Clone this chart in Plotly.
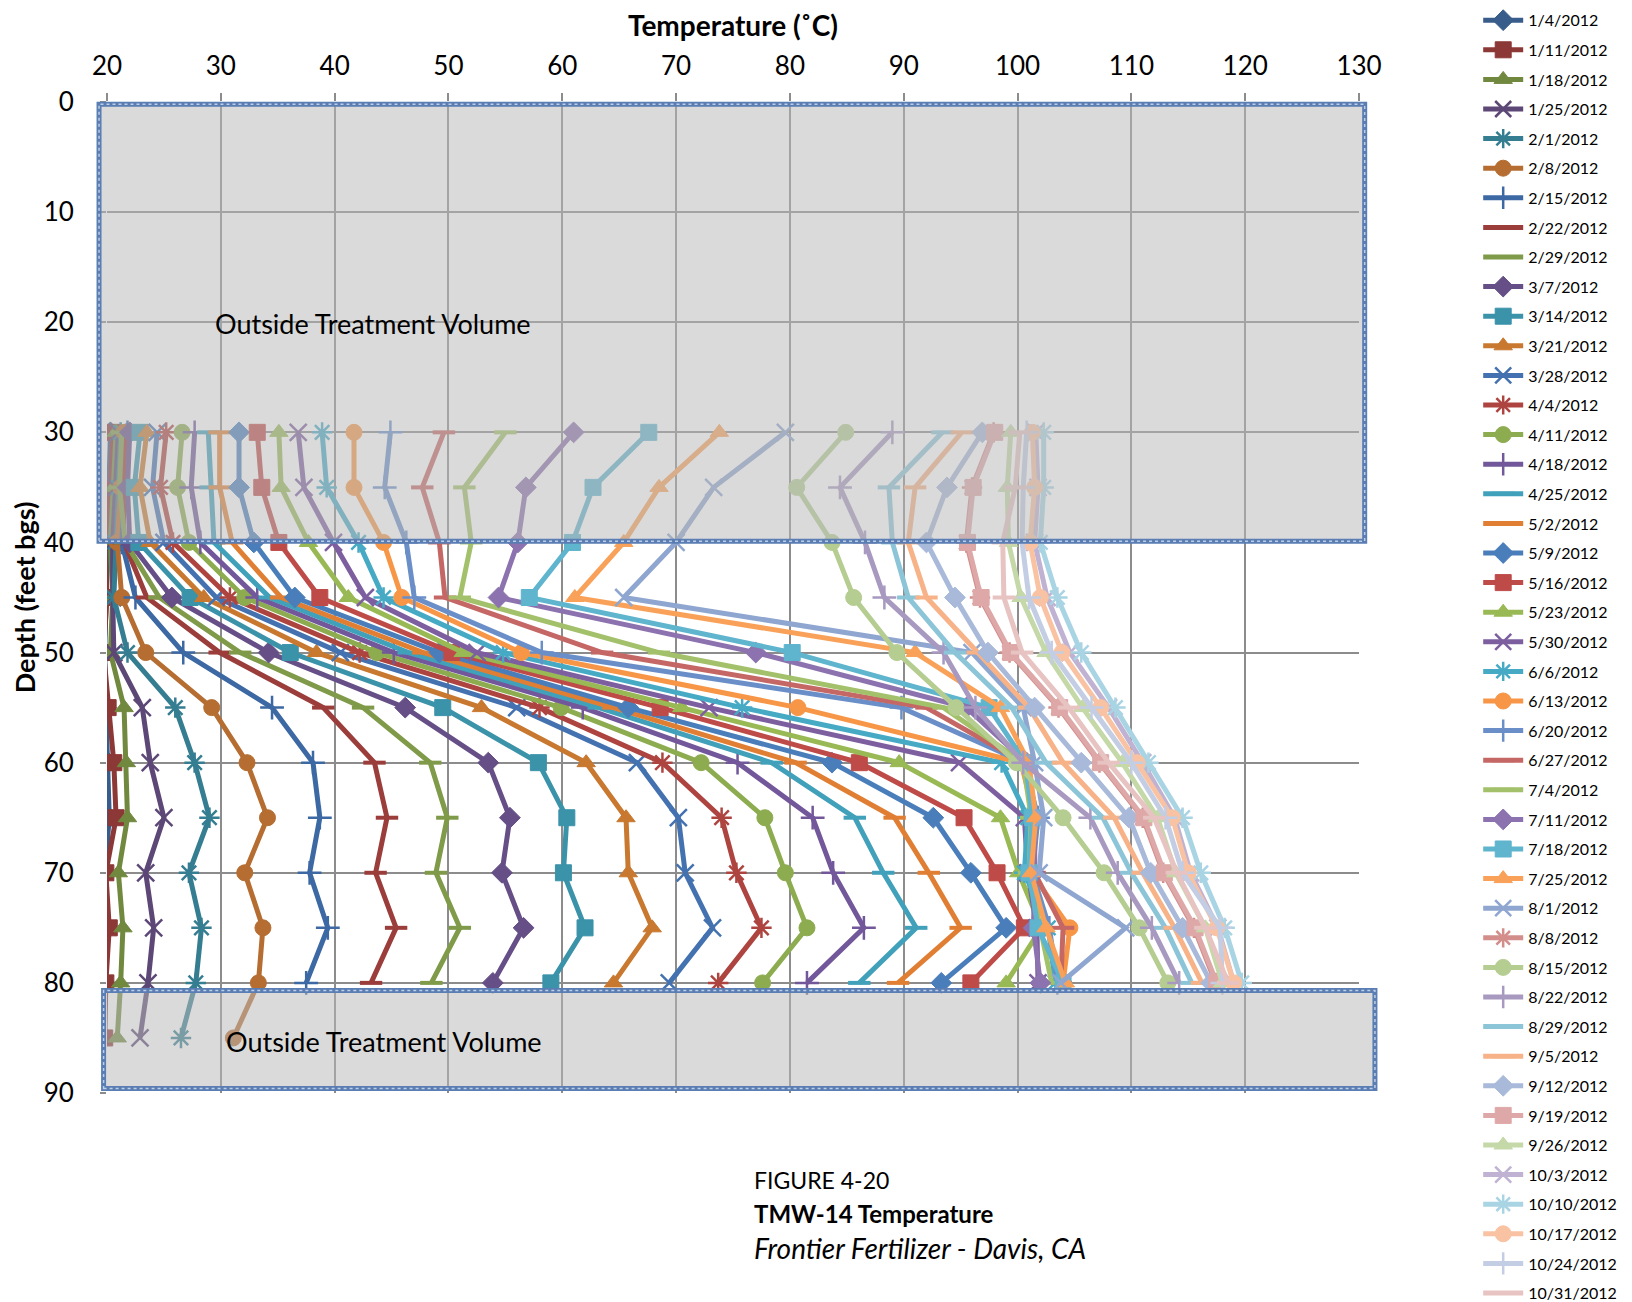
import plotly.graph_objects as go

dates = ["1/4/2012", "1/11/2012", "1/18/2012", "1/25/2012", "2/1/2012", "2/8/2012",
         "2/15/2012", "2/22/2012", "2/29/2012", "3/7/2012", "3/14/2012", "3/21/2012",
         "3/28/2012", "4/4/2012", "4/11/2012", "4/18/2012", "4/25/2012", "5/2/2012",
         "5/9/2012", "5/16/2012", "5/23/2012", "5/30/2012", "6/6/2012", "6/13/2012",
         "6/20/2012", "6/27/2012", "7/4/2012", "7/11/2012", "7/18/2012", "7/25/2012",
         "8/1/2012", "8/8/2012", "8/15/2012", "8/22/2012", "8/29/2012", "9/5/2012",
         "9/12/2012", "9/19/2012", "9/26/2012", "10/3/2012", "10/10/2012", "10/17/2012",
         "10/24/2012", "10/31/2012"]

depths = [30, 35, 40, 45, 50, 55, 60, 65, 70, 75, 80, 85]

t_0104 = [20.3, 20.2, 20.1, 19.9, 19.8, 19.9, 20.1, 20.2, 19.8, 19.9, 19.8, 19.8]
t_0111 = [20.5, 20.3, 19.8, 20.0, 19.7, 20.1, 20.6, 20.8, 19.9, 20.2, 19.9, 19.8]
t_0118 = [20.8, 20.6, 20.3, 20.5, 20.3, 21.5, 21.7, 21.8, 21.0, 21.4, 21.2, 20.9]
t_0125 = [21.0, 20.8, 20.5, 20.5, 20.6, 23.1, 23.8, 25.0, 23.4, 24.1, 23.6, 22.9]
t_0201 = [21.2, 21.0, 20.7, 20.6, 21.8, 26.0, 27.7, 29.0, 27.2, 28.3, 27.8, 26.5]
t_0208 = [21.5, 21.2, 20.9, 21.3, 23.4, 29.2, 32.3, 34.1, 32.1, 33.7, 33.3, 31.1]
t_0215 = [21.8, 21.5, 21.3, 22.5, 26.7, 34.5, 38.1, 38.7, 37.8, 39.4, 37.5]
t_0222 = [21.6, 21.4, 21.5, 23.5, 29.9, 39.0, 43.5, 44.6, 43.6, 45.4, 43.2]
t_0229 = [21.3, 21.1, 21.6, 24.6, 31.7, 42.5, 48.4, 49.9, 48.9, 51.0, 48.5]
t_0307 = [22.0, 21.8, 22.0, 25.7, 34.2, 46.2, 53.5, 55.4, 54.7, 56.6, 53.9]
t_0314 = [22.9, 22.4, 22.8, 27.3, 36.1, 49.5, 57.9, 60.4, 60.1, 62.0, 59.0]
t_0321 = [23.5, 22.9, 23.8, 28.5, 38.4, 52.9, 62.1, 65.6, 65.8, 67.9, 64.5]
t_0328 = [24.4, 24.0, 25.0, 29.6, 40.5, 56.0, 66.6, 70.2, 70.8, 73.2, 69.4]
t_0404 = [25.2, 24.7, 25.8, 30.8, 42.2, 58.0, 68.8, 74.0, 75.3, 77.5, 73.7]
t_0411 = [26.6, 26.2, 27.2, 32.1, 43.7, 59.9, 72.2, 77.8, 79.6, 81.5, 77.6]
t_0418 = [27.7, 27.4, 28.2, 33.2, 45.2, 61.8, 75.4, 82.0, 83.8, 86.5, 81.5]
t_0425 = [28.9, 29.1, 29.4, 34.3, 46.5, 63.2, 78.4, 85.7, 88.2, 91.1, 86.1]
t_0502 = [29.9, 29.9, 31.0, 35.3, 47.8, 64.5, 80.5, 89.2, 92.2, 95.0, 89.5]
t_0509 = [31.6, 31.6, 32.9, 36.5, 49.2, 65.8, 83.7, 92.6, 95.9, 99.0, 93.3]
t_0516 = [33.2, 33.6, 35.1, 38.7, 50.3, 68.6, 86.1, 95.3, 98.2, 100.6, 95.9]
t_0523 = [35.1, 35.3, 37.7, 41.2, 51.3, 70.5, 89.6, 98.5, 100.1, 102.1, 99.0]
t_0530 = [36.8, 37.3, 39.9, 42.7, 52.5, 72.9, 94.9, 100.6, 100.9, 101.7, 101.8]
t_0606 = [38.9, 39.3, 42.1, 44.3, 54.8, 75.8, 98.6, 100.9, 100.6, 102.7, 103.3]
t_0613 = [41.7, 41.7, 44.3, 45.9, 56.4, 80.7, 100.3, 101.5, 101.2, 104.6, 104.0]
t_0620 = [44.9, 44.4, 46.3, 47.0, 58.2, 89.8, 100.6, 101.8, 101.3, 102.8, 103.5]
t_0627 = [49.6, 47.7, 49.2, 49.7, 63.5, 92.0, 100.5, 101.5, 101.5, 104.0, 103.8]
t_0704 = [55.0, 51.4, 52.0, 51.0, 68.5, 93.5, 100.5, 101.2, 101.0, 102.0, 103.0]
t_0711 = [61.0, 56.8, 56.1, 54.4, 77.0, 95.5, 100.8, 101.5, 101.5, 101.4, 102.0]
t_0718 = [67.6, 62.7, 60.9, 57.1, 80.2, 97.5, 100.7, 101.3, 101.0, 101.8, 104.0]
t_0725 = [73.8, 68.5, 65.4, 61.1, 91.0, 98.5, 101.0, 101.6, 101.2, 102.5, 104.2]
t_0801 = [79.6, 73.3, 70.0, 65.4, 96.0, 100.5, 101.5, 102.3, 101.9, 109.5, 103.8]
t_0808 = [97.9, 96.0, 95.5, 96.7, 99.3, 103.6, 107.2, 111.0, 112.8, 115.5, 117.4]
t_0815 = [84.9, 80.6, 83.7, 85.6, 89.4, 94.6, 99.9, 104.0, 107.6, 110.7, 113.2]
t_0822 = [89.0, 84.4, 86.6, 88.3, 93.5, 96.3, 100.5, 106.4, 108.8, 111.8, 114.2]
t_0829 = [93.4, 88.7, 89.0, 90.4, 94.5, 99.5, 102.5, 107.5, 110.0, 113.0, 115.3]
t_0905 = [95.1, 91.0, 90.4, 92.0, 96.5, 101.0, 104.0, 108.5, 111.0, 113.8, 116.2]
t_0912 = [96.9, 93.8, 92.0, 94.5, 97.4, 101.5, 105.6, 109.8, 111.7, 114.5, 117.0]
t_0919 = [98.0, 96.1, 95.6, 96.8, 99.4, 103.7, 107.3, 111.1, 112.9, 115.6, 117.5]
t_0926 = [99.4, 99.1, 99.2, 100.3, 102.5, 105.7, 109.2, 112.3, 113.9, 116.5, 118.0]
t_1003 = [101.6, 101.8, 101.5, 102.6, 104.6, 108.0, 111.0, 113.8, 115.2, 117.6, 119.0]
t_1010 = [102.3, 102.3, 102.0, 103.5, 105.6, 108.6, 111.5, 114.5, 116.1, 118.2, 119.7]
t_1017 = [101.3, 101.5, 101.1, 102.0, 103.9, 107.3, 110.5, 113.6, 115.0, 117.5, 119.0]
t_1024 = [100.8, 100.5, 100.4, 101.0, 103.0, 106.5, 110.0, 113.0, 114.5, 117.8, 118.0]
t_1031 = [100.2, 99.8, 98.7, 98.8, 100.4, 104.5, 108.0, 112.0, 114.0, 116.5, 118.5]

series = [t_0104, t_0111, t_0118, t_0125, t_0201, t_0208, t_0215, t_0222, t_0229,
          t_0307, t_0314, t_0321, t_0328, t_0404, t_0411, t_0418, t_0425, t_0502,
          t_0509, t_0516, t_0523, t_0530, t_0606, t_0613, t_0620, t_0627, t_0704,
          t_0711, t_0718, t_0725, t_0801, t_0808, t_0815, t_0822, t_0829, t_0905,
          t_0912, t_0919, t_0926, t_1003, t_1010, t_1017, t_1024, t_1031]

colors = [
    "#385D8A", "#8C3836", "#71893F", "#5C4776", "#357D91", "#B66D31",
    "#3C68A3", "#9B3D3A", "#7F9A48", "#654F86", "#3B93AA", "#C8782F",
    "#4472B0", "#AE4440", "#8DAC50", "#72589A", "#41A0BA", "#E07F33",
    "#4A7EBB", "#BE4B48", "#98B954", "#7D5FA0", "#46AAC5", "#F79646",
    "#6A8FC8", "#C56764", "#A3C16A", "#8C72AE", "#5FB4CE", "#F9A159",
    "#8EA6D0", "#D38E8C", "#B5CD90", "#A899C0", "#8CC5D8", "#F7B287",
    "#A8B9DA", "#DDA8A7", "#C5D8A8", "#BFB2D2", "#A9D4E3", "#F9C3A3",
    "#C3CDE3", "#E7C3C2",
]

symbol_cycle = ["diamond", "square", "triangle-up", "x-thin-open", "asterisk-open",
                "circle", "cross-thin-open", "line-ew-open", "line-ew-open"]

FONT = "Lato"

fig = go.Figure()
for i, (name, vals) in enumerate(zip(dates, series)):
    sym = symbol_cycle[i % len(symbol_cycle)]
    c = colors[i]
    is_open = sym.endswith("-open")
    if sym == "line-ew-open":
        mk = dict(symbol=sym, size=16, color=c, line=dict(color=c, width=4))
    elif is_open:
        mk = dict(symbol=sym, size=17, color=c, line=dict(color=c, width=2.5))
    else:
        mk = dict(symbol=sym, size=16, color=c, line=dict(color=c, width=1))
    fig.add_trace(go.Scatter(
        x=vals, y=depths[:len(vals)], mode="lines+markers", name=name,
        legendgroup=name, line=dict(color=c, width=5), marker=mk,
    ))

def px(t):
    return (t - 20) / 110.0

def py(d):
    return 1 - d / 90.0

# shaded "outside treatment volume" boxes
for (t0, t1, d0, d1) in [(19.3, 130.5, 0.2, 39.9), (19.7, 131.4, 80.7, 89.6)]:
    fig.add_shape(type="rect", xref="paper", yref="paper",
                  x0=px(t0), x1=px(t1), y0=py(d1), y1=py(d0),
                  fillcolor="rgba(185,185,185,0.52)",
                  line=dict(color="#5A7DB3", width=5), layer="above")
    fig.add_shape(type="rect", xref="paper", yref="paper",
                  x0=px(t0), x1=px(t1), y0=py(d1), y1=py(d0),
                  fillcolor="rgba(0,0,0,0)",
                  line=dict(color="rgba(200,215,235,0.9)", width=1.5, dash="dot"), layer="above")

fig.add_annotation(x=29.3, y=20.1, xref="x", yref="y", text="Outside Treatment Volume",
                   showarrow=False, xanchor="left", yanchor="middle",
                   font=dict(family=FONT, size=27, color="#000000"))
fig.add_annotation(x=30.3, y=85.3, xref="x", yref="y", text="Outside Treatment Volume",
                   showarrow=False, xanchor="left", yanchor="middle",
                   font=dict(family=FONT, size=27, color="#000000"))

for txt, yy, fs in [("FIGURE 4-20", 1180, 23), ("<b>TMW-14 Temperature</b>", 1213, 24),
                    ("<i>Frontier Fertilizer - Davis, CA</i>", 1248, 28)]:
    fig.add_annotation(x=(752 - 107) / 1252.0, y=(1093 - yy) / 991.0, xref="paper", yref="paper",
                       text=txt, showarrow=False, xanchor="left", yanchor="middle",
                       font=dict(family=FONT, size=fs, color="#000000"))

# the page body adds an 8px offset, so the figure is 8px smaller than the window
fig.update_layout(
    width=1624, height=1294,
    margin=dict(l=99, r=273, t=94, b=209, autoexpand=False),
    paper_bgcolor="white", plot_bgcolor="white",
    font=dict(family=FONT, color="#000000"),
    showlegend=True,
    legend=dict(x=1.0952, xanchor="left", y=1.0996, yanchor="top",
                font=dict(family=FONT, size=16, color="#000000"),
                tracegroupgap=5.8, bgcolor="rgba(0,0,0,0)", itemwidth=40,
                maxheight=2000),
    xaxis=dict(range=[20, 130], side="top", dtick=10, tick0=20, automargin=False,
               showgrid=True, gridcolor="#8C8C8C", gridwidth=2,
               ticks="outside", ticklen=8, tickcolor="#8C8C8C", tickwidth=1.5,
               tickfont=dict(family=FONT, size=26), ticklabelstandoff=8,
               zeroline=False, showline=False,
               title=dict(text="<b>Temperature (˚C)</b>", font=dict(family=FONT, size=28), standoff=8)),
    yaxis=dict(range=[90, 0], dtick=10, tick0=0, automargin=False,
               showgrid=True, gridcolor="#8C8C8C", gridwidth=2,
               ticks="outside", ticklen=6, tickcolor="#8C8C8C", tickwidth=1.5,
               tickfont=dict(family=FONT, size=26), ticklabelstandoff=21,
               zeroline=False, showline=False,
               title=dict(text="<b>Depth (feet bgs)</b>", font=dict(family=FONT, size=27), standoff=0)),
)

fig.write_html("out.html")
